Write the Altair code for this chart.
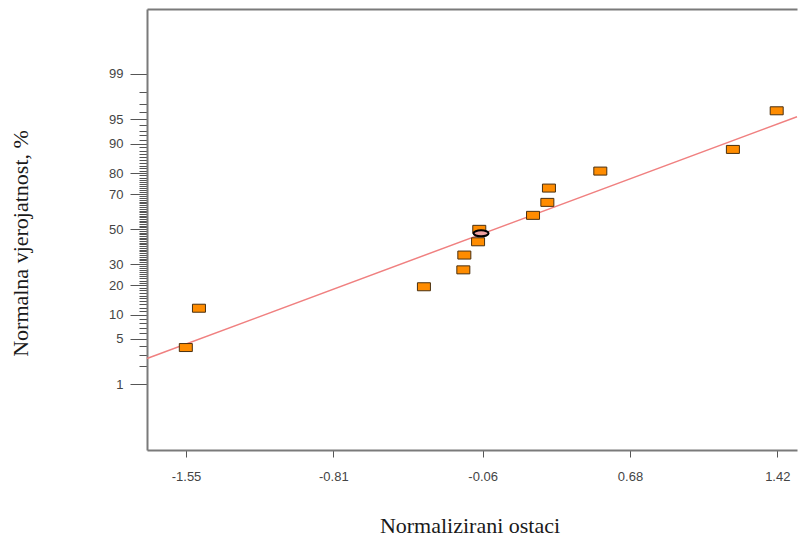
import altair as alt
import pandas as pd
from statistics import NormalDist

# Normal probability plot of normalized residuals
resid = [-1.551, -1.485, -0.355, -0.157, -0.152, -0.083, -0.077, 0.193, 0.265, 0.273, 0.531, 1.197, 1.417]
prob = [3.8, 11.8, 19.4, 27.1, 34.9, 42.5, 49.9, 58.2, 65.6, 73.1, 80.8, 88.4, 96.2]

# highlighted (elliptical) marker
mark_x = [-0.068]
mark_p = [47.5]

# fitted reference line
fit_x = [-1.746, 1.519]
fit_p = [2.63, 95.4]

x_ticks = [-1.55, -0.81, -0.06, 0.68, 1.42]
y_major = [1, 5, 10, 20, 30, 50, 70, 80, 90, 95, 99]
y_minor = [p for p in range(2, 99) if p not in y_major]

nd = NormalDist()
y_major_z = [nd.inv_cdf(p / 100) for p in y_major]
y_minor_z = [nd.inv_cdf(p / 100) for p in y_minor]

pts = pd.DataFrame({"x": resid, "p": prob})
mk = pd.DataFrame({"x": mark_x, "p": mark_p})
fit = pd.DataFrame({"x": fit_x, "p": fit_p})

xscale = alt.Scale(domain=[-1.746, 1.519], nice=False, zero=False)
yscale = alt.Scale(domain=[-3.31, 3.30], nice=False, zero=False)

FRAME = "#7a7a7a"
LBL = "#444444"
TITLE_FONT = "Liberation Serif"
LABEL_FONT = "Liberation Sans"

zcalc = "quantileNormal(datum.p / 100)"

line = alt.Chart(fit).mark_line(color="#f08080", strokeWidth=1.5).transform_calculate(
    z=zcalc
).encode(
    x=alt.X("x:Q", scale=xscale,
            axis=alt.Axis(orient="top", ticks=False, labels=False, title=None, grid=False,
                          domainColor=FRAME, domainWidth=2)),
    y=alt.Y("z:Q", scale=yscale,
            axis=alt.Axis(orient="left", values=y_minor_z, labels=False, domain=False,
                          tickSize=8, tickColor="#555555", tickWidth=1, title=None, grid=False)),
)

rect_shape = "M -1 -0.615 L 1 -0.615 L 1 0.615 L -1 0.615 Z"
points = alt.Chart(pts).mark_point(
    shape=rect_shape, size=169, filled=True, fill="#ff8c00", stroke="#4a3010",
    strokeWidth=1, opacity=1
).transform_calculate(
    z=zcalc
).encode(
    x=alt.X("x:Q", scale=xscale,
            axis=alt.Axis(orient="bottom", values=x_ticks, labelExpr="'' + datum.value",
                          tickSize=7, tickColor="#555555", tickWidth=1,
                          labelFont=LABEL_FONT, labelFontSize=13, labelColor=LBL,
                          labelBaseline="alphabetic", labelPadding=23, labelFlush=False,
                          labelOverlap=False, grid=False,
                          domainColor=FRAME, domainWidth=2,
                          title="Normalizirani ostaci", titleFont=TITLE_FONT,
                          titleFontSize=22, titleFontWeight="normal", titleColor="#1a1a1a",
                          titleX=322.5, titleY=82, titleAlign="center",
                          titleBaseline="alphabetic", titleAngle=0)),
    y=alt.Y("z:Q", scale=yscale,
            axis=alt.Axis(orient="left", values=y_major_z,
                          labelExpr="format(cumulativeNormal(datum.value) * 100, '.0f')",
                          tickSize=17, tickColor="#555555", tickWidth=1,
                          labelFont=LABEL_FONT, labelFontSize=13, labelColor=LBL,
                          labelPadding=7, labelBaseline="middle", labelFlush=False,
                          labelOverlap=False, grid=False,
                          domainColor=FRAME, domainWidth=2,
                          title="Normalna vjerojatnost, %", titleFont=TITLE_FONT,
                          titleFontSize=22, titleFontWeight="normal", titleColor="#1a1a1a",
                          titleX=-120, titleY=234, titleAlign="center",
                          titleBaseline="alphabetic", titleAngle=270)),
)

ellipse_shape = "M -1 0 A 1 0.4 0 1 1 1 0 A 1 0.4 0 1 1 -1 0 Z"
marker = alt.Chart(mk).mark_point(
    shape=ellipse_shape, size=225, filled=True, fill="#eea0a0", stroke="#000000",
    strokeWidth=2, opacity=1
).transform_calculate(
    z=zcalc
).encode(
    x=alt.X("x:Q", scale=xscale, axis=None),
    y=alt.Y("z:Q", scale=yscale, axis=None),
)

chart = alt.layer(line, points, marker).resolve_axis(
    x="independent", y="independent"
).properties(
    width=650,
    height=441,
    autosize=alt.AutoSizeParams(type="none"),
    padding={"left": 139, "top": 1, "right": 1, "bottom": 94},
    background="white",
).configure_view(stroke=None)

chart.save("out.html", embed_options={"renderer": "svg", "actions": False})
